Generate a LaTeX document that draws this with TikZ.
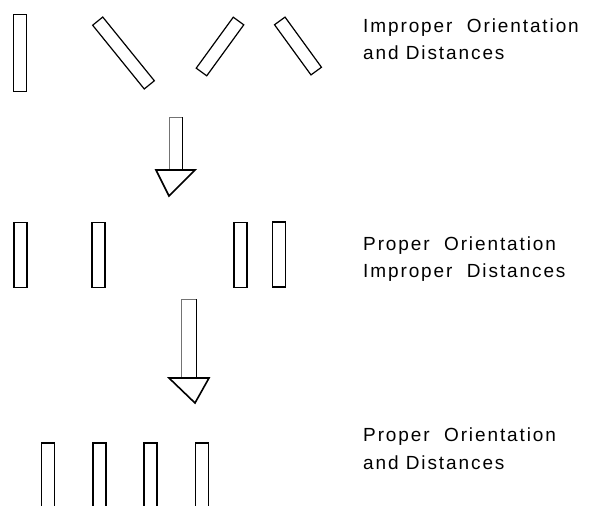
\documentclass[tikz,border=0pt]{standalone}
\usepackage{fontspec}
\newfontfamily\capfont{Liberation Sans}[LetterSpace=10]
\usepackage{tikz}
\usetikzlibrary{calc}

\begin{document}
\begin{tikzpicture}[
    x=1pt, y=-1pt,
    bar/.style={
        rectangle,
        draw=black,
        line width=1.2pt,
        fill=white,
        inner sep=0pt,
        minimum width=13pt,
        minimum height=#1
    },
    shaft/.style={
        draw=black!55,
        line width=1pt,
        fill=white
    },
    head/.style={
        draw=black,
        line width=1.6pt,
        line join=miter,
        fill=white
    },
    caption/.style={
        anchor=base west,
        inner sep=0pt,
        align=left,
        font=\capfont\fontsize{19pt}{27.5pt}\selectfont
    }
]

\clip (0,0) rectangle (589,506);

% ---- Row 1: wrong orientation, wrong distances ----
\node[bar=77pt]             (a1) at (20,53)    {};
\node[bar=82pt, rotate=39]  (a2) at (123.5,53) {};
\node[bar=63pt, rotate=-36] (a3) at (220,46.5) {};
\node[bar=62pt, rotate=36]  (a4) at (298,46)   {};

% ---- Row 2: right orientation, wrong distances ----
\node[bar=65pt] (b1) at (20.5,255)  {};
\node[bar=65pt] (b2) at (98.5,255)  {};
\node[bar=65pt] (b3) at (240.5,255) {};
\node[bar=65pt] (b4) at (279,254.5) {};

% ---- Row 3: right orientation and distances (cut at the bottom) ----
\node[bar=90pt] (c1) at (48,488)    {};
\node[bar=90pt] (c2) at (99.5,488)  {};
\node[bar=90pt] (c3) at (150.5,488) {};
\node[bar=90pt] (c4) at (202,488)   {};

% ---- Block arrows between the rows ----
\coordinate (s1) at (169,117);
\coordinate (t1) at (169,196);
\filldraw[shaft] (s1) rectangle (182,170);
\draw[black, line width=1pt] (182,117) -- (182,170);
\filldraw[head] (156,170) -- (195,170) -- (t1) -- cycle;

\coordinate (s2) at (181,299);
\coordinate (t2) at (195,403);
\filldraw[shaft] (s2) rectangle (196,378);
\draw[black, line width=1pt] (196,299) -- (196,378);
\filldraw[head] (169,378) -- (209,378) -- (t2) -- cycle;

% ---- Captions (anchored at the baseline of the last line) ----
\node[caption] (capA) at (363,59.5)  {Improper~ Orientation\\and Distances};
\node[caption] (capB) at (363,277.7) {Proper~ Orientation\\Improper~ Distances};
\node[caption] (capC) at (363,469)   {Proper~ Orientation\\and Distances};

\end{tikzpicture}
\end{document}
